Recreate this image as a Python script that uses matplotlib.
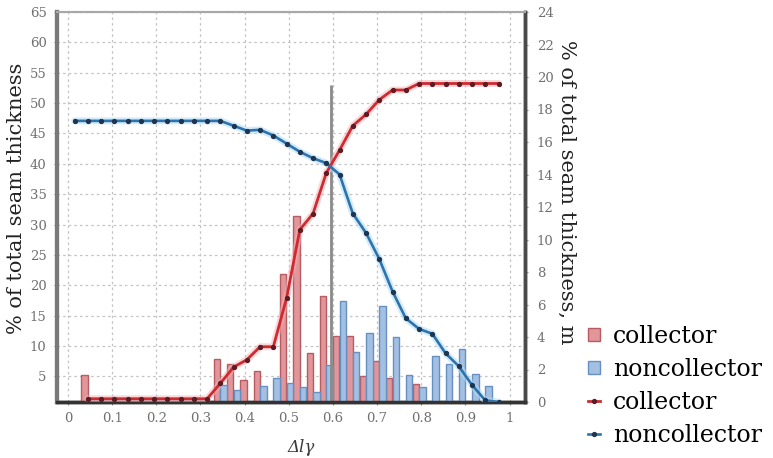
import numpy as np
import matplotlib
matplotlib.use("Agg")
import matplotlib.pyplot as plt
from matplotlib.patches import Patch
from matplotlib.lines import Line2D

# Histogram bins of Δlγ (bin centres), step 0.03
bin_centers = np.round(np.arange(0.045, 0.975, 0.03), 3)

# % of total seam thickness per bin
collector_pct = [5.3, 0, 0, 0, 0, 0, 0, 0, 0, 0,
                 7.8, 7.0, 4.4, 5.9, 0, 21.8, 31.4, 8.8, 18.2, 11.7,
                 11.6, 5.1, 7.6, 4.7, 0, 3.7, 0, 0, 0, 0, 0]
noncollector_pct = [0, 0, 0, 0, 0, 0, 0, 0, 0, 0,
                    3.6, 2.8, 0, 3.4, 4.7, 4.0, 3.3, 2.5, 6.9, 17.4,
                    9.0, 12.1, 16.6, 11.5, 5.2, 3.3, 8.3, 7.0, 9.6, 5.4, 3.4]

# Cumulative seam thickness, m
collector_x = np.round(np.arange(0.045, 0.976, 0.03), 3)
collector_m = [0.2, 0.2, 0.2, 0.2, 0.2, 0.2, 0.2, 0.2, 0.2, 0.2,
               1.15, 2.15, 2.6, 3.4, 3.4, 6.4, 10.6, 11.6, 14.1, 15.5,
               17.0, 17.7, 18.6, 19.2, 19.2, 19.6, 19.6, 19.6, 19.6, 19.6,
               19.6, 19.6]
noncollector_x = np.round(np.arange(0.015, 0.976, 0.03), 3)
noncollector_m = [17.3, 17.3, 17.3, 17.3, 17.3, 17.3, 17.3, 17.3, 17.3, 17.3,
                  17.3, 17.3, 17.0, 16.7, 16.75, 16.4, 15.9, 15.4, 15.0, 14.7,
                  14.0, 11.6, 10.4, 8.8, 6.8, 5.15, 4.5, 4.2, 3.0, 2.2,
                  1.05, 0.1, 0.0]

# Boundary value of Δlγ
boundary_x = 0.595
boundary_top = 19.5

x_ticks = [0, 0.1, 0.2, 0.3, 0.4, 0.5, 0.6, 0.7, 0.8, 0.9, 1]
x_ticklabels = ["0", "0.1", "0.2", "0.3", "0.4", "0.5", "0.6", "0.7", "0.8", "0.9", "1"]
left_ticks = list(range(5, 66, 5))
right_ticks = list(range(0, 25, 2))

W, H = 773, 458
fig = plt.figure(figsize=(W / 100, H / 100), dpi=100)
ax = fig.add_axes([57 / W, 1 - 402 / H, 468 / W, 390 / H])
ax2 = ax.twinx()

serif = "DejaVu Serif"
tick_color = "#707070"

red_fill, red_edge = "#e0969a", "#b85c62"
blue_fill, blue_edge = "#a3c0e3", "#6790c2"
bw = 0.0145
half = 0.0075

ax.bar(bin_centers - half, collector_pct, width=bw, color=red_fill,
       edgecolor=red_edge, linewidth=1.0, zorder=3)
ax.bar(bin_centers + half, noncollector_pct, width=bw, color=blue_fill,
       edgecolor=blue_edge, linewidth=1.0, zorder=3)

ax.set_xlim(-0.025, 1.035)
ax.set_ylim(0.8, 65)
ax2.set_ylim(0, 24)

ax.set_xticks(x_ticks)
ax.set_xticklabels(x_ticklabels)
ax.set_yticks(left_ticks)
ax2.set_yticks(right_ticks)

ax.grid(True, color="#c2c2c2", linestyle=(0, (2, 2.5)), linewidth=0.9, zorder=0)
ax.set_axisbelow(True)

# boundary marker
ax2.vlines(boundary_x, 0, boundary_top, color="#8a8a8a", linewidth=2.0, zorder=2)

# cumulative lines with a soft halo
ax2.plot(collector_x, collector_m, color="#f6b0b4", linewidth=5.0, alpha=0.5,
         solid_capstyle="round", zorder=3)
ax2.plot(noncollector_x, noncollector_m, color="#b0dcf7", linewidth=5.0, alpha=0.55,
         solid_capstyle="round", zorder=3)
ax2.plot(collector_x, collector_m, color="#cf2a30", linewidth=2.0, marker="o",
         markersize=2.8, markerfacecolor="#5e1c22", markeredgecolor="#5e1c22", zorder=4)
ax2.plot(noncollector_x, noncollector_m, color="#2d73ad", linewidth=1.9, marker="o",
         markersize=2.8, markerfacecolor="#1d3550", markeredgecolor="#1d3550", zorder=4)

for a in (ax, ax2):
    a.tick_params(labelsize=9.5, labelcolor=tick_color, color="#888888", length=2.5,
                  width=0.8)
    for lab in a.get_xticklabels() + a.get_yticklabels():
        lab.set_fontfamily(serif)
ax.tick_params(axis="y", pad=5)
ax.tick_params(axis="x", pad=5)
ax2.tick_params(axis="y", pad=6)

for a in (ax, ax2):
    a.spines["left"].set_color("#7a7a7a")
    a.spines["left"].set_linewidth(3.0)
    a.spines["bottom"].set_color("#333333")
    a.spines["bottom"].set_linewidth(2.5)
    a.spines["right"].set_color("#4a4a4a")
    a.spines["right"].set_linewidth(2.5)
    a.spines["top"].set_color("#a8a8a8")
    a.spines["top"].set_linewidth(1.5)

fig.text(17 / W, 1 - 198 / H, "% of total seam thickness", rotation=90,
         ha="center", va="center", fontsize=15, family=serif, color="#222222")
fig.text(567 / W, 1 - 192 / H, "% of total seam thickness, m", rotation=270,
         ha="center", va="center", fontsize=15, family=serif, color="#222222")
fig.text(301 / W, 1 - 447 / H, "Δlγ", ha="center", va="center", fontsize=12,
         family=serif, style="italic", color="#3a3a3a")

handles = [
    Patch(facecolor=red_fill, edgecolor=red_edge, linewidth=1.0),
    Patch(facecolor=blue_fill, edgecolor=blue_edge, linewidth=1.0),
    Line2D([], [], color="#cf2a30", linewidth=2.0, marker="o", markersize=2.8,
           markerfacecolor="#5e1c22", markeredgecolor="#5e1c22"),
    Line2D([], [], color="#2d73ad", linewidth=1.9, marker="o", markersize=2.8,
           markerfacecolor="#1d3550", markeredgecolor="#1d3550"),
]
labels = ["collector", "noncollector", "collector", "noncollector"]
fig.legend(handles, labels, loc="upper left", bbox_to_anchor=(588 / W, 1 - 325 / H),
           frameon=False, borderpad=0, borderaxespad=0, handlelength=0.5,
           handleheight=0.5, handletextpad=0.55, labelspacing=0.42,
           prop={"family": serif, "size": 17})

fig.savefig("out.png", dpi=100)
